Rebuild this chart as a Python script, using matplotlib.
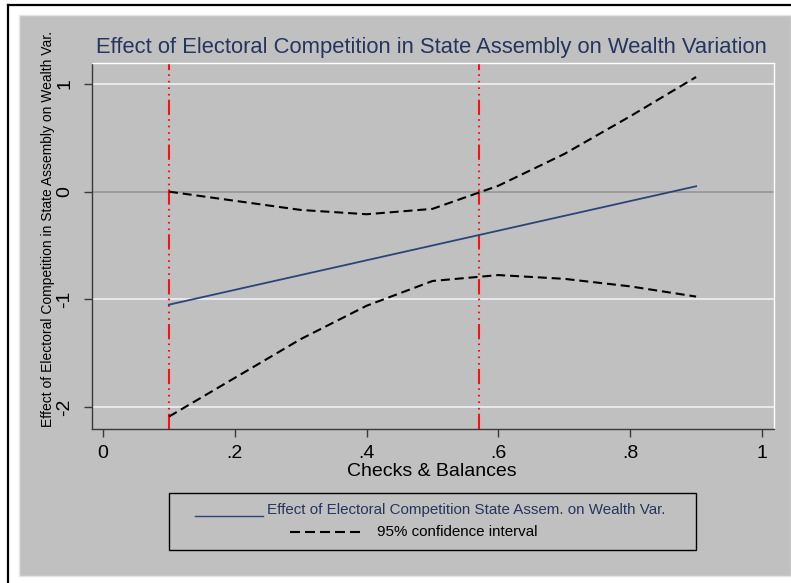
import matplotlib
matplotlib.use("Agg")
import matplotlib.pyplot as plt
from matplotlib.patches import Rectangle
from matplotlib.lines import Line2D

# ---- data ----
x_vals = [0.1, 0.2, 0.3, 0.4, 0.5, 0.6, 0.7, 0.8, 0.9]
effect = [-1.05, -0.9125, -0.775, -0.6375, -0.50, -0.3625, -0.225, -0.0875, 0.05]
upper_ci = [0.00, -0.085, -0.17, -0.21, -0.16, 0.055, 0.35, 0.70, 1.065]
lower_ci = [-2.09, -1.73, -1.37, -1.06, -0.83, -0.775, -0.81, -0.88, -0.975]
vlines_x = [0.1, 0.57]
xticks = [0, 0.2, 0.4, 0.6, 0.8, 1.0]
xtick_labels = ["0", ".2", ".4", ".6", ".8", "1"]
yticks = [-2, -1, 0, 1]
ytick_labels = ["-2", "-1", "0", "1"]
title = "Effect of Electoral Competition in State Assembly on Wealth Variation"
xlabel = "Checks & Balances"
ylabel = "Effect of Electoral Competition in State Assembly on Wealth Var."
legend_labels = ["Effect of Electoral Competition State Assem. on Wealth Var.",
                 "95% confidence interval"]

W, H = 791, 583
plt.rcParams['font.family'] = ['Liberation Sans', 'DejaVu Sans']
plt.rcParams['lines.scale_dashes'] = False

fig = plt.figure(figsize=(W / 100, H / 100), dpi=100)
fig.patch.set_facecolor('white')

def fx(px):
    return px / W

def fy(py):
    return 1 - py / H

GRAY = '#c0c0c0'
NAVY = '#26355e'

# outer gray region and black frame
fig.patches.append(Rectangle((fx(19), fy(576)), fx(791) - fx(19), fy(15) - fy(576),
                             transform=fig.transFigure, facecolor=GRAY,
                             edgecolor='#e4e4ea', lw=1.0, zorder=-5))
fig.lines.append(Line2D([fx(8), fx(8)], [fy(583), fy(5)], transform=fig.transFigure,
                        color='black', lw=1.6, zorder=-4))
fig.lines.append(Line2D([fx(8), fx(791)], [fy(5), fy(5)], transform=fig.transFigure,
                        color='black', lw=1.6, zorder=-4))

# axes
L, R, T, B = 92, 774, 63, 429
ax = fig.add_axes([fx(L), fy(B), fx(R) - fx(L), fy(T) - fy(B)])
ax.set_zorder(5)
ax.set_facecolor(GRAY)
ax.set_xlim(-0.0167, 1.0182)
ax.set_ylim(-2.205, 1.195)

for s in ['top', 'right']:
    ax.spines[s].set_color('white')
    ax.spines[s].set_linewidth(1.0)
for s in ['left', 'bottom']:
    ax.spines[s].set_color('#3a3a3a')
    ax.spines[s].set_linewidth(1.0)

# gridlines
for yv in yticks:
    if yv == 0:
        ax.axhline(yv, color='#9a9a9a', lw=1.3, zorder=1)
    else:
        ax.axhline(yv, color='#eaeef4', lw=1.3, zorder=1)

# red vertical lines
for xv in vlines_x:
    ax.axvline(xv, color='#ff1010', lw=1.5, zorder=2,
               linestyle=(0, (11, 3, 1.2, 3.5, 1.2, 3.5, 1.2, 3.5, 1.2, 3)))

ax.plot(x_vals, upper_ci, color='black', lw=1.5, linestyle=(0, (6.5, 3.5)), zorder=3)
ax.plot(x_vals, lower_ci, color='black', lw=1.5, linestyle=(0, (6.5, 3.5)), zorder=3)
ax.plot(x_vals, effect, color='#2c4478', lw=1.3, zorder=4)

ax.set_xticks(xticks)
ax.set_xticklabels(xtick_labels, fontsize=14)
ax.set_yticks(yticks)
ax.set_yticklabels(ytick_labels, fontsize=14, rotation=90, va='center')
ax.tick_params(axis='both', direction='out', length=5.5, width=1.0, color='#3a3a3a',
               pad=6)
ax.tick_params(axis='y', pad=8)

# titles
fig.text(fx(431), fy(48), title, fontsize=15.8, color=NAVY, ha='center', va='center')
fig.text(fx(432), fy(471), xlabel, fontsize=14, color='black', ha='center', va='center')
fig.text(fx(48), fy(229), ylabel, fontsize=10, color='black', ha='center', va='center',
         rotation=90)

# legend box
fig.patches.append(Rectangle((fx(169), fy(550)), fx(696) - fx(169), fy(493) - fy(550),
                             transform=fig.transFigure, facecolor=GRAY,
                             edgecolor='black', lw=1.0, zorder=2))
fig.lines.append(Line2D([fx(195), fx(263)], [fy(516), fy(516)], transform=fig.transFigure,
                        color='#2c4478', lw=1.0, zorder=3))
fig.text(fx(267), fy(510), legend_labels[0], fontsize=10.9, color=NAVY,
         ha='left', va='center', zorder=3)
fig.lines.append(Line2D([fx(290), fx(364)], [fy(532), fy(532)], transform=fig.transFigure,
                        color='black', lw=1.5, linestyle=(0, (7.2, 3.6)), zorder=3))
fig.text(fx(377), fy(532), legend_labels[1], fontsize=10.9, color='black',
         ha='left', va='center', zorder=3)

fig.savefig('out.png', dpi=100)
